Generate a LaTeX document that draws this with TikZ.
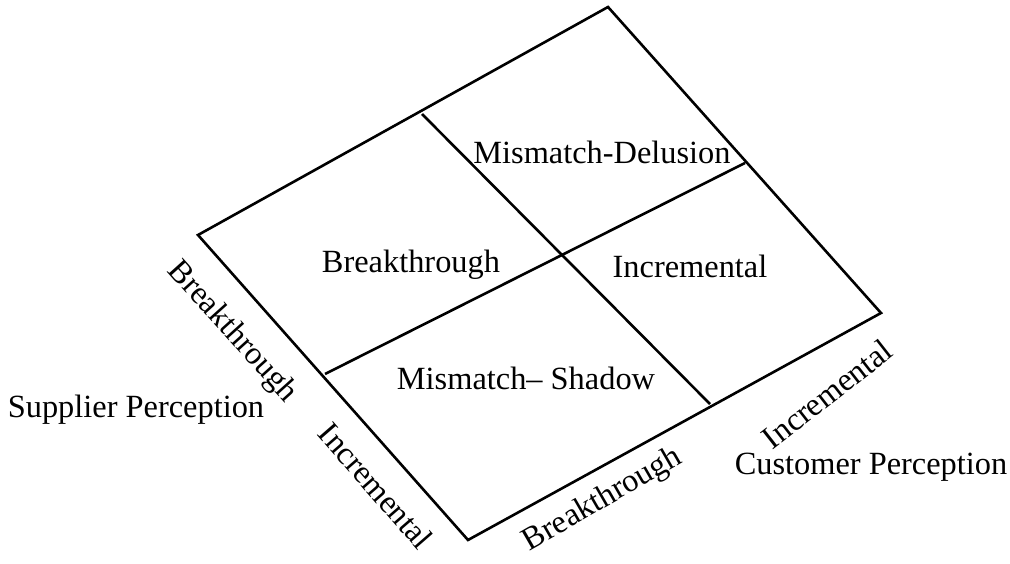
\documentclass[tikz,border=0pt]{standalone}
\usepackage{fontspec}
\setmainfont{Liberation Serif}
\begin{document}
\begin{tikzpicture}[x=1bp,y=-1bp,
  grid/.style={line width=2.6bp, line join=miter},
  lbl/.style={inner sep=0pt, font=\fontsize{32.5}{38}\selectfont}]
\useasboundingbox (0,0) rectangle (1010,564);
% outer parallelogram corners
\coordinate (L) at (198,235);
\coordinate (T) at (608,7);
\coordinate (R) at (881,313);
\coordinate (B) at (468,540);
% dividing lines' end points
\coordinate (lb) at (325,374);
\coordinate (tr) at (745,163);
\coordinate (lt) at (422,114);
\coordinate (br) at (710,404);
\draw[grid] (L) -- (T) -- (R) -- (B) -- cycle;
\draw[grid] (lb) -- (tr);
\draw[grid] (lt) -- (br);
% quadrant texts
\node[lbl] (md) at (602,152) {Mismatch-Delusion};
\node[lbl] (bt) at (411,265) {Breakthrough};
\node[lbl] (inc) at (690,266) {Incremental};
\node[lbl] (ms) at (526,378) {Mismatch-- Shadow};
% axis labels
\node[lbl, rotate=-48] (sb) at (232,332) {Breakthrough};
\node[lbl, rotate=-49] (si) at (376,486) {Incremental};
\node[lbl, rotate=30] (cb) at (603,500) {Breakthrough};
\node[lbl, rotate=38] (ci) at (827,394) {Incremental};
\node[lbl] (sp) at (136,410) {Supplier Perception};
\node[lbl] (cp) at (871,467) {Customer Perception};
\end{tikzpicture}
\end{document}
